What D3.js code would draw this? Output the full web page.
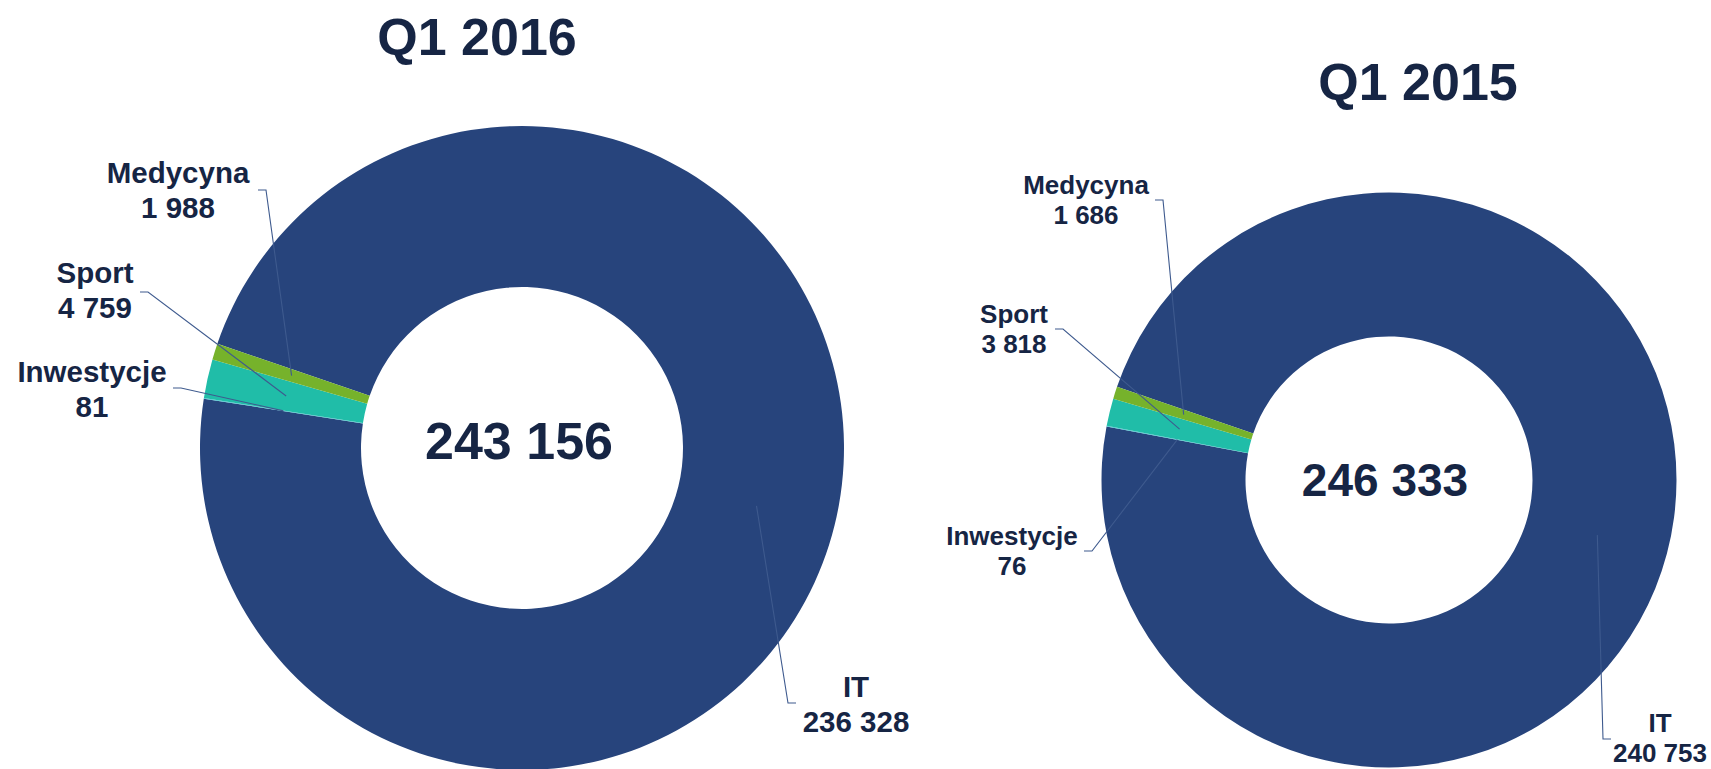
<!DOCTYPE html>
<html>
<head>
<meta charset="utf-8">
<script src="https://cdn.jsdelivr.net/npm/d3@7"></script>
<style>
  html, body { margin: 0; padding: 0; background: #ffffff; overflow: hidden; }
  svg { display: block; }
  text { font-family: "Liberation Sans", Arial, sans-serif; font-weight: bold; fill: #162544; }
</style>
</head>
<body>
<script>
// ---- data ----
const categories = ["IT", "Inwestycje", "Sport", "Medycyna"];
const values2016 = [236328, 81, 4759, 1988];
const values2015 = [240753, 76, 3818, 1686];
const valueLabels2016 = ["236 328", "81", "4 759", "1 988"];
const valueLabels2015 = ["240 753", "76", "3 818", "1 686"];
const titles = ["Q1 2016", "Q1 2015"];
const totalLabels = ["243 156", "246 333"];
const colors = ["#27447C", "#46C6D6", "#20BDA8", "#76B22B"];

// ---- layout ----
const W = 1711, H = 769;
const startDeg = -71.1;
const charts = [
  {
    values: values2016, valueLabels: valueLabels2016, title: titles[0], total: totalLabels[0],
    cx: 522, cy: 448, R: 322, r: 161,
    titleX: 477, titleY: 55, titleSize: 52,
    totalX: 519, totalY: 459, totalSize: 52,
    labelSize: 29.5, lineGap: 35,
    labels: {
      "IT":         { x: 856, y: 697, lx: 796, ly: 703, dir: -1 },
      "Inwestycje": { x: 92,  y: 382, lx: 173, ly: 388, dir: 1 },
      "Sport":      { x: 95,  y: 283, lx: 140, ly: 292, dir: 1 },
      "Medycyna":   { x: 178, y: 183, lx: 258, ly: 190, dir: 1 }
    }
  },
  {
    values: values2015, valueLabels: valueLabels2015, title: titles[1], total: totalLabels[1],
    cx: 1389, cy: 480, R: 287.5, r: 143.5,
    titleX: 1418, titleY: 100, titleSize: 52,
    totalX: 1385, totalY: 496, totalSize: 46,
    labelSize: 26, lineGap: 30,
    labels: {
      "IT":         { x: 1660, y: 732, lx: 1611, ly: 739, dir: -1 },
      "Inwestycje": { x: 1012, y: 545, lx: 1084, ly: 551, dir: 1 },
      "Sport":      { x: 1014, y: 323, lx: 1055, ly: 329, dir: 1 },
      "Medycyna":   { x: 1086, y: 194, lx: 1155, ly: 200, dir: 1 }
    }
  }
];

const svg = d3.select("body").append("svg").attr("width", W).attr("height", H);
const color = d3.scaleOrdinal().domain(categories).range(colors);

charts.forEach(c => {
  const a0 = startDeg * Math.PI / 180;
  const pie = d3.pie().sort(null).value(d => d.value).startAngle(a0).endAngle(a0 + 2 * Math.PI);
  const data = categories.map((k, i) => ({ key: k, value: c.values[i], label: c.valueLabels[i] }));
  const arcs = pie(data);
  const arc = d3.arc().innerRadius(c.r).outerRadius(c.R);
  const midArc = d3.arc().innerRadius((c.r + c.R) / 2).outerRadius((c.r + c.R) / 2);

  const g = svg.append("g").attr("transform", `translate(${c.cx},${c.cy})`);
  g.selectAll("path.slice").data(arcs).enter().append("path")
    .attr("class", "slice")
    .attr("d", arc)
    .attr("fill", d => color(d.data.key));

  // leader lines
  arcs.forEach(d => {
    const L = c.labels[d.data.key];
    const [mx, my] = midArc.centroid(d);
    const pts = [[L.lx, L.ly], [L.lx + L.dir * 8, L.ly], [c.cx + mx, c.cy + my]];
    svg.append("path")
      .attr("d", d3.line()(pts))
      .attr("fill", "none")
      .attr("stroke", "#3E5A8E")
      .attr("stroke-width", 1.1);
  });

  // labels
  arcs.forEach(d => {
    const L = c.labels[d.data.key];
    const t = svg.append("text")
      .attr("text-anchor", "middle")
      .style("font-size", c.labelSize + "px");
    t.append("tspan").attr("x", L.x).attr("y", L.y).text(d.data.key);
    t.append("tspan").attr("x", L.x).attr("y", L.y + c.lineGap).text(d.data.label);
  });

  svg.append("text")
    .attr("x", c.titleX).attr("y", c.titleY)
    .attr("text-anchor", "middle")
    .style("font-size", c.titleSize + "px")
    .text(c.title);

  svg.append("text")
    .attr("x", c.totalX).attr("y", c.totalY)
    .attr("text-anchor", "middle")
    .style("font-size", c.totalSize + "px")
    .text(c.total);
});
</script>
</body>
</html>
